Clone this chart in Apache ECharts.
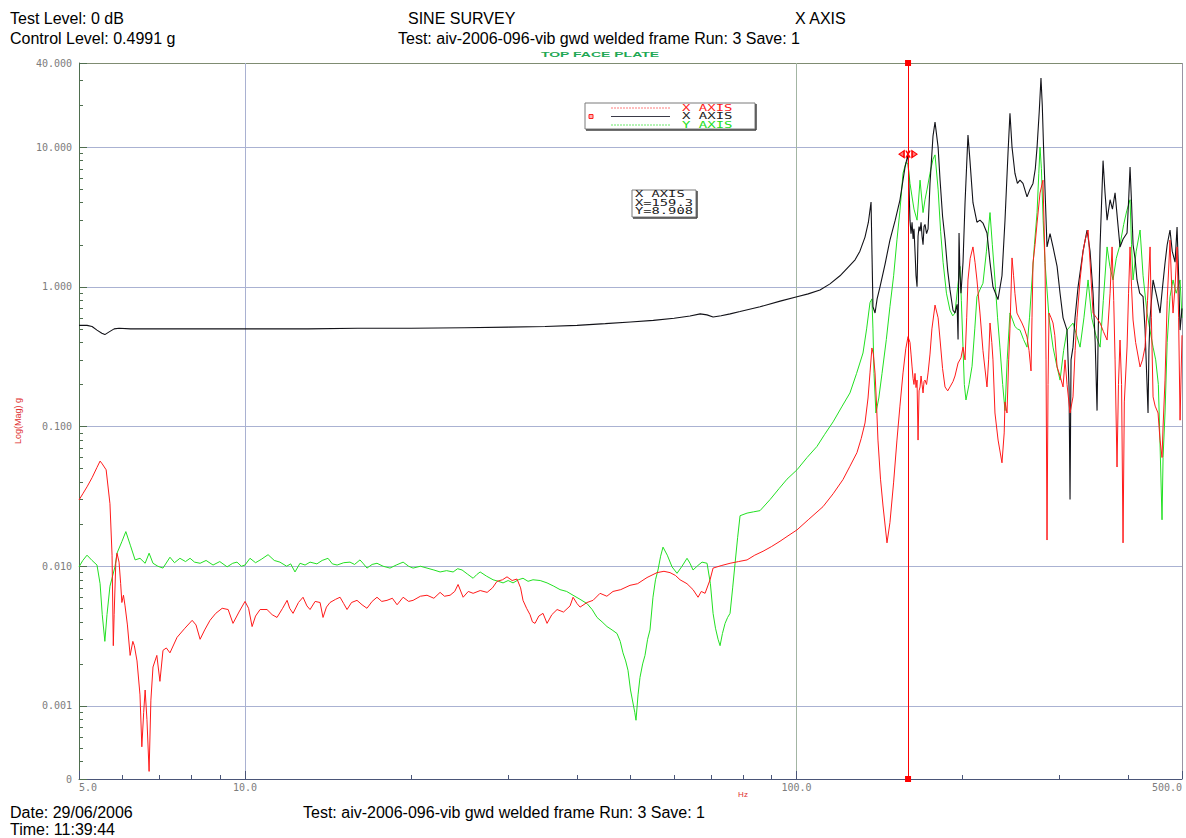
<!DOCTYPE html>
<html>
<head>
<meta charset="utf-8">
<title>SINE SURVEY - X AXIS</title>
<script src="https://cdn.jsdelivr.net/npm/echarts@6/dist/echarts.min.js"></script>
<style>
  html, body { margin: 0; padding: 0; background: #ffffff; }
  #chart { width: 1186px; height: 838px; }
</style>
</head>
<body>
<div id="chart"></div>
<script>
// Sine survey transmissibility, top face plate. Each point is [frequency Hz, response g].

// X AXIS response (red trace)
const xAxisRed = [
  [5.00,0.0298],[5.08,0.033],[5.17,0.037],[5.28,0.043],[5.39,0.051],[5.46,0.0566],[5.51,0.054],[5.60,0.049],
  [5.69,0.028],[5.74,0.012],[5.77,0.0027],[5.79,0.0045],[5.83,0.0105],[5.86,0.0124],[5.91,0.0107],[5.95,0.0075],
  [5.98,0.0055],[6.02,0.0062],[6.06,0.0052],[6.12,0.0038],[6.19,0.0023],[6.26,0.0029],[6.30,0.0027],[6.37,0.0021],
  [6.45,0.0012],[6.50,0.00051],[6.55,0.0009],[6.59,0.0013],[6.64,0.0008],[6.70,0.00034],[6.75,0.0011],[6.81,0.0019],
  [6.92,0.0023],[7.01,0.0015],[7.10,0.0025],[7.20,0.0026],[7.31,0.0024],[7.53,0.0031],[7.78,0.0036],[8.02,0.0041],
  [8.15,0.0038],[8.29,0.0030],[8.45,0.0035],[8.64,0.0041],[8.85,0.0046],[9.09,0.0050],[9.32,0.0049],[9.51,0.0039],
  [9.75,0.0047],[10.0,0.0056],[10.15,0.0050],[10.30,0.0037],[10.45,0.0044],[10.65,0.0049],[10.96,0.0049],[11.2,0.0045],
  [11.43,0.0043],[11.7,0.0050],[11.92,0.0057],[12.05,0.0050],[12.22,0.0046],[12.5,0.0055],[12.74,0.0060],[12.95,0.0052],
  [13.12,0.0049],[13.4,0.0056],[13.68,0.0055],[13.85,0.0043],[14.05,0.0051],[14.26,0.0055],[14.6,0.0058],[14.87,0.0060],
  [15.1,0.0054],[15.31,0.0049],[15.6,0.0055],[15.96,0.0057],[16.3,0.0053],[16.64,0.0050],[17.0,0.0056],[17.35,0.0060],
  [17.7,0.0056],[18.09,0.0057],[18.5,0.0059],[18.87,0.0053],[19.35,0.0060],[19.8,0.0056],[20.17,0.0057],[20.8,0.0061],
  [21.38,0.0062],[22.0,0.0059],[22.58,0.0065],[23.0,0.0061],[23.54,0.0062],[24.0,0.0066],[24.34,0.0074],[24.86,0.0060],
  [25.4,0.0066],[25.92,0.0064],[26.7,0.0067],[27.48,0.0065],[28.1,0.0070],[28.64,0.0078],[29.3,0.0080],[29.86,0.0084],
  [30.5,0.0079],[31.13,0.0081],[31.6,0.0070],[31.92,0.0057],[32.4,0.0050],[32.87,0.0045],[33.2,0.0040],[33.56,0.0039],
  [34.1,0.0044],[34.70,0.0046],[35.29,0.0039],[36.0,0.0045],[36.80,0.0049],[37.8,0.0047],[38.85,0.0052],[39.34,0.0060],
  [40.0,0.0054],[40.51,0.0051],[41.7,0.0055],[42.76,0.0057],[44.03,0.0064],[45.3,0.0061],[46.48,0.0066],[48.0,0.0068],
  [49.89,0.0073],[51.5,0.0075],[53.57,0.0083],[55.85,0.0090],[57.5,0.0092],[58.97,0.0090],[60.3,0.0086],[61.49,0.0080],
  [63.3,0.0075],[64.92,0.0068],[66.29,0.0060],[67.2,0.0066],[68.26,0.0064],[69.70,0.0080],[70.58,0.0097],[73.0,0.0101],
  [75.77,0.0105],[78.5,0.0108],[81.34,0.0111],[84.0,0.0120],[86.96,0.0128],[90.0,0.0138],[93.35,0.0151],[96.5,0.0165],
  [100.2,0.0182],[105.0,0.0215],[111.7,0.0267],[116.5,0.033],[121.4,0.0417],[125.0,0.052],[128.7,0.065],[131.0,0.082],
  [133.1,0.106],[134.8,0.16],[135.9,0.242],[137.0,0.365],[137.8,0.33],[138.8,0.242],[139.7,0.14],[140.5,0.080],
  [142.0,0.042],[143.5,0.027],[145.9,0.0147],[147.7,0.0205],[150.0,0.04],[152.1,0.080],[154.0,0.14],[156.0,0.242],
  [157.8,0.36],[159.3,0.44],[160.6,0.40],[161.3,0.33],[162.0,0.267],[162.7,0.22],[163.3,0.20],[164.0,0.24],
  [164.7,0.19],[165.4,0.215],[166.1,0.080],[166.8,0.18],[167.5,0.192],[168.2,0.23],[168.9,0.20],[169.6,0.174],
  [170.3,0.21],[171.0,0.215],[172.1,0.20],[173.2,0.242],[174.6,0.33],[176.0,0.5],[178.3,0.74],[180.6,0.6],
  [182.1,0.416],[184.0,0.26],[185.9,0.192],[188.0,0.18],[189.8,0.192],[192.2,0.21],[193.8,0.23],[196.3,0.285],
  [198.7,0.31],[200.4,0.37],[202.1,0.30],[203.5,0.6],[204.6,1.12],[206.5,1.6],[208.9,1.93],[210.7,1.5],
  [212.4,1.12],[215.1,0.649],[217.8,0.35],[221.5,0.192],[223.0,0.3],[224.3,0.551],[226.0,0.4],[227.1,0.3],
  [229.0,0.125],[232.0,0.08],[235.8,0.055],[238.0,0.09],[238.8,0.15],[240.8,0.125],[242.5,0.3],[243.8,0.5],
  [245.9,1.61],[247.5,1.2],[248.9,0.9],[251.0,0.649],[253.5,0.6],[256.3,0.551],[259.0,0.5],[261.8,0.437],
  [264.0,0.35],[266.2,0.25],[267.3,0.6],[268.4,1.48],[270.7,2.0],[273.0,2.86],[276.4,4.69],[279.8,5.8],
  [282.2,1.5],[283.4,0.3],[284.6,0.0154],[285.8,0.2],[287.0,0.649],[289.5,0.6],[291.8,0.551],[294.0,0.45],
  [296.8,0.267],[300.5,0.23],[304.3,0.192],[306.8,0.3],[309.4,0.2],[313.3,0.125],[317.2,0.163],[320.0,0.35],
  [322.6,0.6],[326.7,1.12],[330.8,1.8],[334.0,2.2],[337.8,2.55],[340.6,1.5],[344.9,0.649],[350.0,0.6],
  [355.2,0.551],[360.0,0.48],[365.7,0.416],[370.3,0.9],[373.4,1.93],[376.0,0.8],[378.1,0.3],[381.2,0.0513],
  [383.5,0.2],[386.0,0.416],[388.5,0.2],[390.9,0.0147],[393.0,0.15],[397.5,0.371],[400.0,0.9],[402.5,1.93],
  [405.0,1.0],[407.6,0.579],[412.0,0.4],[419.7,0.267],[424.0,0.3],[428.5,0.371],[433.0,0.8],[437.6,1.93],
  [440.0,0.6],[443.1,0.163],[447.0,0.14],[452.4,0.125],[456.2,0.08],[460.0,0.06],[462.0,0.1],[465.8,0.215],
  [470.0,0.8],[475.6,2.16],[478.5,1.1],[481.6,0.649],[485.7,1.0],[489.8,1.93],[493.0,0.6],[496.0,0.111],[500,0.45]
];

// X AXIS response (black trace)
const xAxisBlack = [
  [5.00,0.53],[5.17,0.53],[5.28,0.52],[5.39,0.49],[5.50,0.465],[5.57,0.455],[5.69,0.48],[5.79,0.50],[5.91,0.505],
  [6.2,0.50],[7.0,0.50],[8.0,0.50],[10.0,0.50],[13.0,0.50],[16.0,0.505],[20.0,0.505],[25.0,0.51],[30.0,0.515],
  [35.0,0.52],[40.0,0.53],[45.0,0.545],[50.0,0.56],[55.0,0.575],[60.0,0.595],[64.1,0.618],[66.9,0.64],[68.8,0.63],
  [70.6,0.608],[73.0,0.62],[75.8,0.64],[79.0,0.665],[85.9,0.72],[93.4,0.79],[100.2,0.85],[105.0,0.89],[110.3,0.95],
  [115.0,1.05],[119.9,1.2],[124.0,1.38],[127.7,1.56],[130.3,1.8],[133.1,2.27],[135.0,2.9],[136.5,4.05],[137.6,0.72],
  [138.8,0.65],[140.0,0.82],[141.7,1.0],[144.7,1.45],[147.7,2.16],[151.0,3.0],[154.0,4.18],[157.3,7.2],[159.3,8.908],
  [160.6,3.0],[161.3,2.4],[162.0,2.9],[162.7,2.2],[163.3,2.6],[164.0,1.8],[164.7,1.2],[165.4,1.0],[166.1,2.3],
  [166.8,2.7],[167.5,2.5],[168.2,2.9],[168.9,2.3],[169.6,2.0],[170.3,2.7],[171.0,2.8],[172.1,2.4],[173.2,2.6],
  [174.6,5.5],[176.8,12.0],[178.3,15.1],[180.6,10.0],[182.1,5.8],[184.0,3.2],[185.9,2.2],[188.0,1.3],[189.8,0.95],
  [192.2,0.68],[193.8,0.65],[195.5,0.75],[196.3,0.42],[197.1,2.43],[197.9,1.2],[198.7,0.9],[200.4,1.5],[202.1,4.0],
  [203.5,7.5],[204.6,12.2],[206.3,8.0],[208.9,4.0],[212.4,2.9],[215.1,3.0],[217.8,2.86],[221.5,2.43],[224.3,1.5],
  [227.1,1.0],[231.9,0.81],[235.8,1.2],[238.8,3.0],[241.8,9.0],[243.8,17.5],[245.9,10.0],[248.9,6.5],[251.5,5.5],
  [254.2,5.8],[257.4,5.5],[261.8,4.4],[265.1,5.0],[268.4,5.5],[271.0,7.0],[273.0,10.0],[275.5,18.0],[277.5,31.2],
  [279.0,20.0],[280.5,10.0],[282.2,5.0],[284.6,1.93],[288.2,2.4],[291.8,1.93],[296.8,1.4],[300.5,0.9],[304.3,0.6],
  [309.4,0.49],[312.0,0.19],[313.3,0.03],[314.6,0.30],[317.2,0.37],[319.9,0.6],[324.0,1.0],[330.8,1.8],[336.4,2.55],
  [340.6,1.8],[344.9,0.9],[348.0,0.4],[350.7,0.13],[352.5,0.5],[355.2,2.0],[359.6,8.0],[362.6,4.7],[365.7,3.0],
  [370.3,4.2],[374.0,3.6],[378.1,4.7],[382.0,3.0],[386.0,1.93],[391.0,2.2],[397.5,2.43],[400.5,4.5],[402.5,7.2],
  [405.0,4.0],[407.6,2.0],[411.0,1.6],[414.4,1.12],[419.0,0.9],[425.0,0.85],[428.5,0.5],[432.1,0.2],[433.9,0.125],
  [435.5,0.35],[437.6,0.6],[443.1,1.12],[450.0,0.85],[456.2,0.649],[461.0,1.0],[465.8,1.48],[470.0,2.0],[475.6,2.55],
  [480.0,1.8],[485.7,1.5],[489.8,2.68],[493.0,1.2],[496.0,0.49],[500,0.7]
];

// Y AXIS response (green trace)
const yAxisGreen = [
  [5.00,0.0099],[5.08,0.011],[5.17,0.012],[5.28,0.011],[5.39,0.0102],[5.46,0.0075],[5.51,0.0045],[5.57,0.0029],
  [5.62,0.0045],[5.69,0.0072],[5.81,0.0099],[5.86,0.0124],[5.98,0.0150],[6.08,0.0177],[6.20,0.0140],[6.32,0.0111],
  [6.45,0.0114],[6.59,0.0105],[6.70,0.0124],[6.81,0.0105],[6.95,0.0100],[7.10,0.0097],[7.31,0.0116],[7.45,0.0106],
  [7.62,0.0114],[7.8,0.0108],[7.95,0.0114],[8.1,0.0107],[8.29,0.0105],[8.5,0.0110],[8.75,0.0102],[9.0,0.0108],
  [9.28,0.0099],[9.5,0.0105],[9.67,0.0107],[9.85,0.0100],[10.0,0.0102],[10.21,0.0114],[10.45,0.0106],[10.7,0.0112],
  [11.01,0.0121],[11.3,0.0110],[11.57,0.0107],[11.9,0.0100],[12.1,0.0104],[12.32,0.0091],[12.58,0.0105],[12.85,0.0102],
  [13.12,0.0107],[13.5,0.0104],[13.8,0.0110],[14.14,0.0114],[14.4,0.0104],[14.69,0.0102],[15.1,0.0106],[15.5,0.0107],
  [15.8,0.0103],[16.16,0.0111],[16.4,0.0104],[16.64,0.0097],[17.0,0.0103],[17.35,0.0105],[17.8,0.0100],[18.32,0.0097],
  [18.8,0.0102],[19.35,0.0107],[19.8,0.0100],[20.17,0.0097],[20.8,0.0100],[21.38,0.0097],[22.0,0.0094],[22.58,0.0091],
  [23.2,0.0093],[23.84,0.0091],[24.3,0.0096],[24.75,0.0094],[25.3,0.0088],[25.92,0.0082],[26.3,0.0087],[26.69,0.0091],
  [27.4,0.0085],[28.17,0.0080],[28.8,0.0078],[29.37,0.0076],[30.0,0.0079],[30.62,0.0076],[31.3,0.0080],[31.92,0.0082],
  [32.6,0.0078],[33.28,0.0080],[34.3,0.0079],[35.29,0.0076],[36.3,0.0072],[37.26,0.0068],[38.3,0.0066],[39.34,0.0062],
  [40.5,0.0058],[41.71,0.0054],[42.6,0.0049],[43.48,0.0043],[44.4,0.0040],[45.33,0.0037],[46.3,0.0035],[47.26,0.0033],
  [47.9,0.0029],[48.45,0.0024],[49.0,0.0021],[49.48,0.0018],[50.0,0.0013],[50.52,0.00105],[50.9,0.0009],[51.16,0.00079],
  [51.6,0.0012],[52.02,0.0016],[52.6,0.0020],[53.12,0.0023],[53.7,0.0030],[54.24,0.0035],[54.92,0.0060],[55.5,0.0080],
  [56.08,0.0094],[56.7,0.0118],[57.27,0.0137],[58.3,0.0120],[59.47,0.0099],[60.72,0.0089],[62.0,0.0100],[63.31,0.0114],
  [64.1,0.0105],[64.92,0.0094],[66.2,0.0101],[67.41,0.0107],[68.83,0.0105],[69.8,0.0075],[70.58,0.0046],[71.3,0.0036],
  [72.07,0.0030],[72.67,0.0027],[73.4,0.0033],[74.21,0.0039],[75.0,0.0043],[75.77,0.0046],[76.6,0.0070],[77.37,0.0105],
  [78.2,0.016],[79.0,0.023],[81.34,0.024],[83.5,0.0245],[85.87,0.025],[89.54,0.030],[93.0,0.036],[96.11,0.042],
  [100.2,0.049],[104.5,0.060],[108.9,0.072],[112.5,0.088],[116.5,0.108],[121.0,0.14],[125.0,0.174],[128.5,0.24],
  [132.0,0.336],[134.0,0.5],[135.9,0.77],[137.0,0.82],[137.6,0.5],[138.2,0.24],[139.3,0.125],[141.0,0.16],
  [142.9,0.24],[145.5,0.42],[147.7,0.72],[150.0,1.2],[152.1,2.17],[154.0,3.5],[156.0,6.5],[158.0,7.8],
  [159.3,7.5],[160.6,5.5],[162.0,4.4],[163.3,3.6],[165.4,3.0],[167.5,5.8],[169.6,3.4],[171.0,4.2],
  [172.5,5.0],[174.6,6.5],[176.8,8.2],[178.3,8.8],[180.6,5.0],[182.5,2.5],[184.4,1.5],[187.0,0.9],
  [189.8,0.68],[192.0,0.62],[193.8,0.65],[196.0,1.0],[197.9,1.4],[199.0,0.8],[200.4,0.37],[201.5,0.2],
  [202.9,0.155],[205.5,0.2],[208.1,0.27],[210.5,0.5],[212.4,0.85],[215.0,0.95],[217.8,1.06],[221.0,1.8],
  [224.3,3.4],[226.5,2.0],[229.0,1.12],[231.5,0.6],[233.8,0.37],[236.5,0.2],[238.8,0.13],[241.0,0.3],
  [243.8,0.65],[246.5,0.58],[248.9,0.52],[251.5,0.5],[254.2,0.49],[258.0,0.42],[261.8,0.37],[264.5,0.6],
  [267.3,1.12],[270.0,2.0],[273.0,3.4],[275.0,6.5],[276.4,10.0],[278.0,7.0],[280.0,3.0],[282.2,1.5],
  [287.0,0.6],[291.8,0.37],[296.0,0.28],[300.5,0.215],[305.0,0.35],[309.4,0.49],[313.3,0.52],[317.2,0.55],
  [322.0,0.45],[326.7,0.37],[332.0,0.6],[337.8,1.12],[343.0,0.6],[349.0,0.45],[355.2,0.37],[360.0,0.8],
  [365.7,1.93],[370.0,1.4],[374.9,1.12],[380.0,1.6],[386.0,2.0],[392.0,2.8],[397.0,3.5],[402.5,4.2],
  [405.0,2.0],[407.6,1.12],[413.0,1.8],[419.7,2.55],[425.0,1.2],[432.1,0.65],[437.0,0.5],[443.1,0.37],
  [448.0,0.3],[453.0,0.2],[456.0,0.08],[460.0,0.0215],[462.0,0.06],[465.8,0.125],[470.0,0.4],[475.6,0.85],
  [481.6,1.12],[488.0,0.9],[496.0,1.12],[500,0.6]
];

// Cursor readout at the first resonance
const cursorHz = 159.3;
const cursorG = 8.908;

// Axis ranges and minor tick positions
const freqRange = [5, 500];
const magRange = [0.0003, 40];
const freqMinorTicks = [6, 7, 8, 9, 20, 30, 40, 50, 60, 70, 80, 90, 200, 300, 400];
const magMinorTicks = [];
[0.0001, 0.001, 0.01, 0.1, 1, 10].forEach(function (d) {
  for (let m = 2; m <= 9; m++) {
    const v = +(d * m).toPrecision(3);
    if (v > magRange[0] && v < magRange[1]) magMinorTicks.push(v);
  }
});

// Page texts
const headerLeft = ['Test Level: 0 dB', 'Control Level: 0.4991 g'];
const headerTitle = 'SINE SURVEY';
const headerAxis = 'X AXIS';
const testLine = 'Test: aiv-2006-096-vib gwd welded frame Run: 3 Save: 1';
const plotTitle = 'TOP FACE PLATE';
const footerDate = 'Date: 29/06/2006';
const footerTime = 'Time: 11:39:44';
const legendNames = ['X AXIS', 'X AXIS', 'Y AXIS'];

const RED = '#ff1a1a';
const BLACK = '#121218';
const GREEN = '#22e022';
const SANS = '"Liberation Sans", Arial, sans-serif';
const MONO = '"DejaVu Sans Mono", monospace';

function headerText(x, y, text, extra) {
  return Object.assign({
    type: 'text', x: x, y: y, z: 100,
    style: { text: text, fill: '#000000', font: '16px ' + SANS, align: 'left', verticalAlign: 'middle' }
  }, extra || {});
}

function smallText(x, y, text, color, sx) {
  return {
    type: 'text', x: x, y: y, scaleX: sx, z: 101,
    style: { text: text, fill: color, font: '8px ' + MONO, align: 'left', verticalAlign: 'middle' }
  };
}

const legendBox = {
  type: 'group', x: 585, y: 103, z: 100,
  children: [
    { type: 'rect', shape: { x: 0, y: 0, width: 170, height: 26 }, style: { fill: '#ffffff', stroke: '#7a7a7a', lineWidth: 1 }, z: 100 },
    { type: 'line', shape: { x1: 171, y1: 1, x2: 171, y2: 27 }, style: { stroke: '#404040', lineWidth: 1.5 }, z: 100 },
    { type: 'line', shape: { x1: 1, y1: 27, x2: 171, y2: 27 }, style: { stroke: '#404040', lineWidth: 1.5 }, z: 100 },
    { type: 'line', shape: { x1: 26, y1: 5, x2: 85, y2: 5 }, style: { stroke: '#ff7a7a', lineWidth: 1, lineDash: [2, 1] }, z: 101 },
    { type: 'line', shape: { x1: 26, y1: 13.5, x2: 85, y2: 13.5 }, style: { stroke: '#3a3a48', lineWidth: 1 }, z: 101 },
    { type: 'line', shape: { x1: 26, y1: 22, x2: 85, y2: 22 }, style: { stroke: '#6ae86a', lineWidth: 1, lineDash: [2, 1] }, z: 101 },
    { type: 'rect', shape: { x: 4, y: 11.5, width: 4, height: 4 }, style: { fill: '#ffb0b0', stroke: '#ff2020', lineWidth: 1 }, z: 101 },
    smallText(97, 5, legendNames[0], RED, 1.75),
    smallText(97, 13.5, legendNames[1], '#202020', 1.75),
    smallText(97, 22, legendNames[2], GREEN, 1.75)
  ]
};

const readoutBox = {
  type: 'group', x: 632, y: 190, z: 100,
  children: [
    { type: 'rect', shape: { x: 0, y: 0, width: 64, height: 27 }, style: { fill: '#ffffff', stroke: '#7a7a7a', lineWidth: 1 }, z: 100 },
    { type: 'line', shape: { x1: 65, y1: 1, x2: 65, y2: 28 }, style: { stroke: '#404040', lineWidth: 1.5 }, z: 100 },
    { type: 'line', shape: { x1: 1, y1: 28, x2: 65, y2: 28 }, style: { stroke: '#404040', lineWidth: 1.5 }, z: 100 },
    smallText(3, 5, headerAxis, '#202020', 1.72),
    smallText(3, 13.5, 'X=' + cursorHz.toFixed(1), '#202020', 1.72),
    smallText(3, 22, 'Y=' + cursorG.toFixed(3), '#202020', 1.72)
  ]
};

const chart = echarts.init(document.getElementById('chart'), null, { renderer: 'svg' });

chart.setOption({
  animation: false,
  backgroundColor: '#ffffff',
  textStyle: { fontFamily: SANS },
  grid: { left: 79, right: 4, top: 63, bottom: 59, containLabel: false, outerBoundsMode: 'none' },
  xAxis: [
    {
      type: 'log', logBase: 10, min: freqRange[0], max: freqRange[1],
      position: 'bottom',
      axisLine: { show: true, onZero: false, lineStyle: { color: '#4a5578', width: 1 } },
      axisTick: { show: true, inside: true, length: 8, lineStyle: { color: '#4a5578' } },
      axisLabel: {
        color: '#7c7c7c', fontFamily: MONO, fontSize: 10, margin: 3,
        alignMinLabel: 'left', alignMaxLabel: 'right',
        formatter: function (v) { return v.toFixed(1); }
      },
      splitLine: { show: true, showMinLine: true, showMaxLine: true,
        lineStyle: { color: ['#4a5578', '#a9b1d1', '#a3b5a3', '#9a93a3'], width: 1 } }
    },
    {
      type: 'value', min: Math.log10(freqRange[0]), max: Math.log10(freqRange[1]),
      position: 'bottom', offset: 0,
      axisLine: { show: false, onZero: false },
      axisLabel: { show: false },
      splitLine: { show: false },
      axisTick: { show: true, inside: true, length: 4, customValues: freqMinorTicks.map(Math.log10),
        lineStyle: { color: '#4a5578' } }
    }
  ],
  yAxis: [
    {
      type: 'log', logBase: 10, min: magRange[0], max: magRange[1],
      position: 'left',
      name: 'Log(Mag) g', nameLocation: 'middle', nameGap: 57, nameRotate: 90,
      nameTextStyle: { color: '#e03030', fontSize: 9, fontFamily: SANS },
      axisLine: { show: true, onZero: false, lineStyle: { color: '#4f6e4f', width: 1 } },
      axisTick: { show: true, inside: true, length: 8, lineStyle: { color: '#4f6e4f' } },
      axisLabel: {
        color: '#7c7c7c', fontFamily: MONO, fontSize: 10, margin: 7,
        formatter: function (v) { return v < 0.000999 ? '0' : v.toFixed(3); }
      },
      splitLine: { show: true, showMinLine: true, showMaxLine: true,
        lineStyle: { color: ['#4a5578', '#aab2d2', '#aab2d2', '#aab2d2', '#aab2d2', '#aab2d2', '#7f8c72'], width: 1 } }
    },
    {
      type: 'value', min: Math.log10(magRange[0]), max: Math.log10(magRange[1]),
      position: 'left', offset: 0,
      axisLine: { show: false, onZero: false },
      axisLabel: { show: false },
      splitLine: { show: false },
      axisTick: { show: true, inside: true, length: 4, customValues: magMinorTicks.map(Math.log10),
        lineStyle: { color: '#4f6e4f' } }
    }
  ],
  series: [
    {
      name: 'Y AXIS', type: 'line', data: yAxisGreen, xAxisIndex: 0, yAxisIndex: 0,
      showSymbol: false, symbol: 'none', z: 2,
      lineStyle: { color: GREEN, width: 1 }
    },
    {
      name: 'X AXIS (control)', type: 'line', data: xAxisBlack, xAxisIndex: 0, yAxisIndex: 0,
      showSymbol: false, symbol: 'none', z: 3,
      lineStyle: { color: BLACK, width: 1.1 }
    },
    {
      name: 'X AXIS', type: 'line', data: xAxisRed, xAxisIndex: 0, yAxisIndex: 0,
      showSymbol: false, symbol: 'none', z: 4,
      lineStyle: { color: RED, width: 1 },
      markLine: {
        silent: true, symbol: ['rect', 'rect'], symbolSize: [6, 6],
        label: { show: false },
        lineStyle: { color: '#ff0000', type: 'solid', width: 1 },
        data: [{ xAxis: cursorHz }]
      },
      markPoint: {
        silent: true,
        symbol: 'path://M0,3.5L5,0L5,7Z M18,3.5L13,0L13,7Z M7,0L11,7 M11,0L7,7',
        symbolSize: [18, 7],
        itemStyle: { color: '#ff7a7a', borderColor: '#ff0000', borderWidth: 1 },
        label: { show: false },
        data: [{ coord: [cursorHz, cursorG] }]
      }
    }
  ],
  graphic: {
    elements: [
      headerText(10, 18, headerLeft[0]),
      headerText(10, 38, headerLeft[1]),
      headerText(408, 18, headerTitle),
      headerText(795, 18, headerAxis),
      headerText(398, 38, testLine),
      {
        type: 'text', x: 600, y: 54, scaleX: 1.75, z: 100,
        style: { text: plotTitle, fill: '#1fa855', font: 'bold 8px ' + SANS, align: 'center', verticalAlign: 'middle' }
      },
      {
        type: 'text', x: 743, y: 794, z: 100,
        style: { text: 'Hz', fill: '#e03030', font: '8px ' + SANS, align: 'center', verticalAlign: 'middle' }
      },
      headerText(10, 812, footerDate),
      headerText(303, 812, testLine),
      headerText(10, 829, footerTime),
      legendBox,
      readoutBox
    ]
  }
});
</script>
</body>
</html>
